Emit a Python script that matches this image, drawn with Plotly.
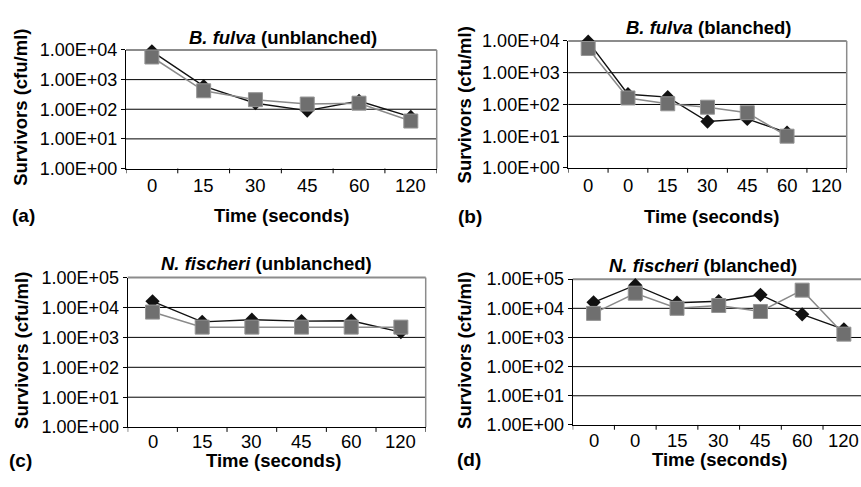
import plotly.graph_objects as go

W, H = 861, 487

# x-axis category labels
time_unblanched = ["0", "15", "30", "45", "60", "120"]
time_blanched = ["0", "0", "15", "30", "45", "60", "120"]

# Survivors (cfu/ml): series 1 = black diamonds, series 2 = grey squares
bf_unbl_s1 = [9000, 600, 160, 90, 190, 55]
bf_unbl_s2 = [5800, 420, 210, 150, 160, 40]
bf_bl_s1 = [9500, 210, 170, 29, 35, 13]
bf_bl_s2 = [5800, 160, 105, 82, 55, 10]
nf_unbl_s1 = [16000, 3300, 3900, 3500, 3600, 1500]
nf_unbl_s2 = [7000, 2200, 2200, 2200, 2200, 2200]
nf_bl_s1 = [16000, 62000, 15500, 17500, 29000, 6200, 1900]
nf_bl_s2 = [6700, 33000, 10000, 12500, 7800, 42000, 1300]

# y tick labels
ytick_vals = [1, 10, 100, 1000, 10000, 100000]
ytick_text = ["1.00E+00", "1.00E+01", "1.00E+02", "1.00E+03", "1.00E+04", "1.00E+05"]

titles = [
    "<b><i>B. fulva</i> (unblanched)</b>",
    "<b><i>B. fulva</i> (blanched)</b>",
    "<b><i>N. fischeri</i> (unblanched)</b>",
    "<b><i>N. fischeri</i> (blanched)</b>",
]
panel_tags = ["(a)", "(b)", "(c)", "(d)"]

FONT = "Liberation Sans, Arial, sans-serif"

# panel layout in pixels: plot box, decades, x range end, label positions
panels = [
    dict(box=(126, 436.7, 41.7, 165.3), cats=time_unblanched, s1=bf_unbl_s1, s2=bf_unbl_s2,
         dec=4, xend=None, right=True, title=(282.5, 29), ytitle=(21, 102),
         xlab=183.5, xtitle=(281.5, 214), tag=(23, 214)),
    dict(box=(568.3, 846.7, 32.3, 164.7), cats=time_blanched, s1=bf_bl_s1, s2=bf_bl_s2,
         dec=4, xend=None, right=True, title=(708.5, 18.5), ytitle=(464.5, 99),
         xlab=183.5, xtitle=(711.5, 215), tag=(470, 215)),
    dict(box=(127.7, 425.7, 279, 435), cats=time_unblanched, s1=nf_unbl_s1, s2=nf_unbl_s2,
         dec=5, xend=None, right=True, title=(266, 264.5), ytitle=(21.5, 355),
         xlab=450, xtitle=(273.5, 470), tag=(20, 470)),
    dict(box=(572.7, 861, 280.7, 432.7), cats=time_blanched, s1=nf_bl_s1, s2=nf_bl_s2,
         dec=5, xend=6.41, right=False, title=(702.5, 266.5), ytitle=(464.5, 355),
         xlab=448.5, xtitle=(719.5, 469), tag=(468.5, 469)),
]


def px(x):
    return x / W


def py(y):
    return 1 - y / H


fig = go.Figure()
annotations = []
shapes = []

for i, p in enumerate(panels, start=1):
    sfx = "" if i == 1 else str(i)
    xr, yr = "x" + sfx, "y" + sfx
    x0, x1, ytop, ybot = p["box"]
    n = len(p["cats"])
    xs = list(range(len(p["s1"])))
    plot_h = ybot - ytop

    fig.add_trace(go.Scatter(
        x=xs, y=p["s1"], mode="lines+markers", xaxis=xr, yaxis=yr,
        line=dict(color="#111111", width=1.4),
        marker=dict(symbol="diamond", size=11, color="#111111"),
        cliponaxis=False, showlegend=False))
    fig.add_trace(go.Scatter(
        x=xs, y=p["s2"], mode="lines+markers", xaxis=xr, yaxis=yr,
        line=dict(color="#8a8a8a", width=1.5),
        marker=dict(symbol="square", size=14, color="#6f6f6f",
                    line=dict(color="#959595", width=1)),
        cliponaxis=False, showlegend=False))

    xend = p["xend"] if p["xend"] is not None else n - 0.5
    fig.layout["xaxis" + sfx] = dict(
        domain=[px(x0), px(x1)], anchor=yr, range=[-0.5, xend],
        showticklabels=False, ticks="",
        showline=True, linecolor="black", linewidth=1,
        showgrid=False, zeroline=False,
    )
    fig.layout["yaxis" + sfx] = dict(
        domain=[py(ybot), py(ytop)], anchor=xr, type="log",
        range=[0, p["dec"]],
        tickmode="array", tickvals=ytick_vals[:p["dec"] + 1],
        ticktext=ytick_text[:p["dec"] + 1],
        ticks="outside", ticklen=4, tickcolor="black",
        showline=True, linecolor="black", linewidth=1,
        showgrid=False, zeroline=False,
        tickfont=dict(family=FONT, size=18, color="black"),
    )

    # horizontal gridlines at each inner decade
    for k in range(1, p["dec"]):
        shapes.append(dict(type="line", xref=xr + " domain", yref=yr + " domain",
                           x0=0, x1=1, y0=k / p["dec"], y1=k / p["dec"], layer="below",
                           line=dict(color="black", width=1)))
    # grey plot-area border on top (and right)
    shapes.append(dict(type="line", xref=xr + " domain", yref=yr + " domain",
                       x0=0, x1=1, y0=1, y1=1, layer="below",
                       line=dict(color="#8c8c8c", width=2)))
    if p["right"]:
        shapes.append(dict(type="line", xref=xr + " domain", yref=yr + " domain",
                           x0=1, x1=1, y0=0, y1=1, layer="below",
                           line=dict(color="#8c8c8c", width=1.5)))
    # category boundary tick marks below the x axis
    for k in range(n + 1):
        b = k - 0.5
        if b > xend + 1e-9:
            continue
        shapes.append(dict(type="line", xref=xr, yref=yr + " domain",
                           x0=b, x1=b, y0=0, y1=-5 / plot_h, layer="above",
                           line=dict(color="black", width=1)))
    # category labels centred under each category
    for k, lab in enumerate(p["cats"]):
        annotations.append(dict(text=lab, x=k, y=py(p["xlab"]), xref=xr, yref="paper",
                                xanchor="center", yanchor="middle", showarrow=False,
                                font=dict(family=FONT, size=18.5, color="black")))

    tx, ty = p["title"]
    annotations.append(dict(text=titles[i - 1], x=px(tx), y=py(ty), xref="paper", yref="paper",
                            xanchor="center", yanchor="middle", showarrow=False,
                            font=dict(family=FONT, size=18.5, color="black")))
    yx, yy = p["ytitle"]
    annotations.append(dict(text="<b>Survivors (cfu/ml)</b>", x=px(yx), y=py(yy),
                            xref="paper", yref="paper", textangle=-90,
                            xanchor="center", yanchor="middle", showarrow=False,
                            font=dict(family=FONT, size=18.5, color="black")))
    xx, xy = p["xtitle"]
    annotations.append(dict(text="<b>Time (seconds)</b>", x=px(xx), y=py(xy),
                            xref="paper", yref="paper",
                            xanchor="center", yanchor="middle", showarrow=False,
                            font=dict(family=FONT, size=18.5, color="black")))
    gx, gy = p["tag"]
    annotations.append(dict(text="<b>%s</b>" % panel_tags[i - 1], x=px(gx), y=py(gy),
                            xref="paper", yref="paper",
                            xanchor="center", yanchor="middle", showarrow=False,
                            font=dict(family=FONT, size=19, color="black")))

fig.update_layout(
    width=W, height=H, margin=dict(l=0, r=0, t=0, b=0),
    paper_bgcolor="white", plot_bgcolor="white",
    annotations=annotations, shapes=shapes,
    font=dict(family=FONT, color="black"),
)

fig.write_html("out.html")
